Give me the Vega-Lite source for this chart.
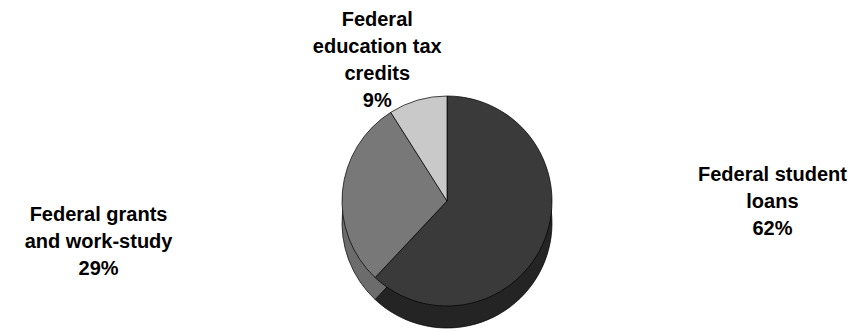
{
  "$schema": "https://vega.github.io/schema/vega-lite/v6.json",
  "width": 868,
  "height": 332,
  "autosize": {"type": "none"},
  "padding": 0,
  "background": "white",
  "config": {"view": {"stroke": null}},
  "data": {
    "values": [
      {"category": "Federal student loans", "share": 62, "idx": 1, "label": "Federal student\nloans\n62%"},
      {"category": "Federal grants and work-study", "share": 29, "idx": 2, "label": "Federal grants\nand work-study\n29%"},
      {"category": "Federal education tax credits", "share": 9, "idx": 3, "label": "Federal\neducation tax\ncredits\n9%"}
    ]
  },
  "encoding": {
    "theta": {"field": "share", "type": "quantitative", "stack": true},
    "order": {"field": "idx", "type": "quantitative"}
  },
  "layer": [
    {
      "mark": {"type": "arc", "outerRadius": 105, "xOffset": 13, "yOffset": 57, "stroke": "#000", "strokeWidth": 0.7},
      "encoding": {
        "color": {
          "field": "category", "type": "nominal", "legend": null,
          "scale": {"domain": ["Federal student loans", "Federal grants and work-study", "Federal education tax credits"], "range": ["#242424", "#6c6c6c", "#a8a8a8"]}
        }
      }
    },
    {
      "mark": {"type": "arc", "outerRadius": 105, "xOffset": 13, "yOffset": 35, "stroke": "#000", "strokeWidth": 0.7},
      "encoding": {
        "color": {
          "field": "category", "type": "nominal", "legend": null,
          "scale": {"domain": ["Federal student loans", "Federal grants and work-study", "Federal education tax credits"], "range": ["#3a3a3a", "#787878", "#c9c9c9"]}
        }
      }
    },
    {
      "mark": {"type": "text", "radius": 350, "align": "center", "xOffset": 13, "yOffset": -120, "font": "Liberation Sans", "fontWeight": "bold", "fontSize": 20, "lineHeight": 27, "lineBreak": "\n", "color": "#000"},
      "encoding": {
        "detail": {"field": "category", "type": "nominal"},
        "text": {"field": "label", "condition": {"test": "datum.idx !== 1", "value": ""}}
      }
    },
    {
      "mark": {"type": "text", "radius": 350, "align": "center", "xOffset": 13, "yOffset": 82, "font": "Liberation Sans", "fontWeight": "bold", "fontSize": 20, "lineHeight": 27, "lineBreak": "\n", "color": "#000"},
      "encoding": {
        "detail": {"field": "category", "type": "nominal"},
        "text": {"field": "label", "condition": {"test": "datum.idx !== 2", "value": ""}}
      }
    },
    {
      "mark": {"type": "text", "radius": 250, "align": "center", "xOffset": 13, "yOffset": 94, "font": "Liberation Sans", "fontWeight": "bold", "fontSize": 20, "lineHeight": 27, "lineBreak": "\n", "color": "#000"},
      "encoding": {
        "detail": {"field": "category", "type": "nominal"},
        "text": {"field": "label", "condition": {"test": "datum.idx !== 3", "value": ""}}
      }
    }
  ],
  "resolve": {"scale": {"color": "independent"}}
}
